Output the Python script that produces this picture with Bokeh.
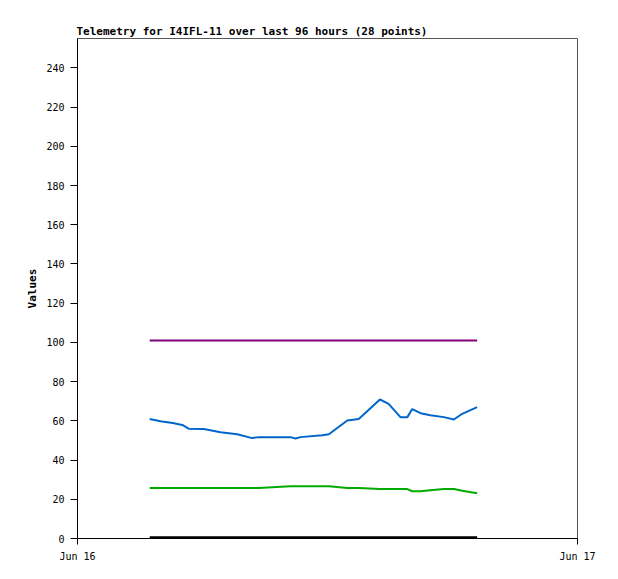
from bokeh.plotting import figure
from bokeh.models import FixedTicker, Range1d
from bokeh.embed import file_html
from bokeh.resources import INLINE
import pandas as pd

times = ["03:28", "03:59", "04:34", "05:02", "05:20", "06:04", "06:52", "07:40",
         "08:23", "08:42", "10:13", "10:28", "10:42", "11:45", "12:04", "12:57",
         "13:30", "14:31", "14:56", "15:30", "15:50", "16:04", "16:28", "16:56",
         "17:35", "18:04", "18:28", "19:11"]
blue = [60.9, 59.8, 58.9, 57.9, 56.0, 55.8, 54.2, 53.2, 51.2, 51.7, 51.7, 51.0,
        51.7, 52.7, 53.2, 60.2, 60.9, 70.9, 68.7, 61.9, 61.9, 66.0, 63.9, 62.9,
        61.9, 60.7, 63.6, 67.0]
green = [25.7, 25.7, 25.7, 25.7, 25.7, 25.7, 25.7, 25.7, 25.7, 25.7, 26.7, 26.7,
         26.7, 26.7, 26.7, 25.7, 25.7, 25.2, 25.2, 25.2, 25.2, 24.1, 24.1, 24.6,
         25.2, 25.2, 24.4, 23.1]
purple = [101.0] * 28
black = [0.4] * 28
y_ticks = [0, 20, 40, 60, 80, 100, 120, 140, 160, 180, 200, 220, 240]

x = pd.to_datetime(["2024-06-16 " + t for t in times])
day0 = pd.Timestamp("2024-06-16")
day1 = pd.Timestamp("2024-06-17")

font = "DejaVu Sans Mono"
p = figure(width=610, height=571, x_axis_type="datetime",
           x_range=Range1d(day0, day1), y_range=Range1d(0, 255),
           output_backend="svg", toolbar_location=None,
           title="Telemetry for I4IFL-11 over last 96 hours (28 points)",
           min_border_left=77, min_border_right=33, min_border_top=38,
           min_border_bottom=33)

p.title.text_font = font
p.title.text_font_size = "11px"
p.title.text_font_style = "bold"
p.title.text_color = "black"
p.title.align = "left"
p.title.standoff = 2
p.title.offset = -1

p.xgrid.visible = False
p.ygrid.visible = False
p.outline_line_color = "#555555"
p.outline_line_width = 1
p.background_fill_color = "white"
p.border_fill_color = "white"

p.line(x, black, color="black", line_width=3)
p.line(x, green, color="#00aa00", line_width=2)
p.line(x, blue, color="#0066cc", line_width=2)
p.line(x, purple, color="#800080", line_width=2)

ms0 = day0.value // 10**6
ms1 = day1.value // 10**6
p.xaxis.ticker = FixedTicker(ticks=[ms0, ms1])
p.xaxis.major_label_overrides = {ms0: "Jun 16", ms1: "Jun 17"}
p.xaxis.minor_tick_line_color = None
p.xaxis.major_tick_out = 6
p.xaxis.major_tick_in = 0
p.xaxis.axis_line_color = "black"
p.xaxis.major_tick_line_color = "black"
p.xaxis.major_label_text_font = font
p.xaxis.major_label_text_font_size = "10px"
p.xaxis.major_label_text_color = "black"
p.xaxis.major_label_standoff = 6

p.yaxis.ticker = FixedTicker(ticks=y_ticks)
p.yaxis.minor_tick_line_color = None
p.yaxis.major_tick_out = 7
p.yaxis.major_tick_in = 0
p.yaxis.axis_line_color = "black"
p.yaxis.major_tick_line_color = "black"
p.yaxis.major_label_text_font = font
p.yaxis.major_label_text_font_size = "10px"
p.yaxis.major_label_text_color = "black"
p.yaxis.major_label_standoff = 6
p.yaxis.axis_label = "Values"
p.yaxis.axis_label_text_font = font
p.yaxis.axis_label_text_font_size = "11px"
p.yaxis.axis_label_text_font_style = "bold"
p.yaxis.axis_label_text_color = "black"
p.yaxis.axis_label_standoff = 4

open("out.html", "w").write(file_html(p, INLINE))
